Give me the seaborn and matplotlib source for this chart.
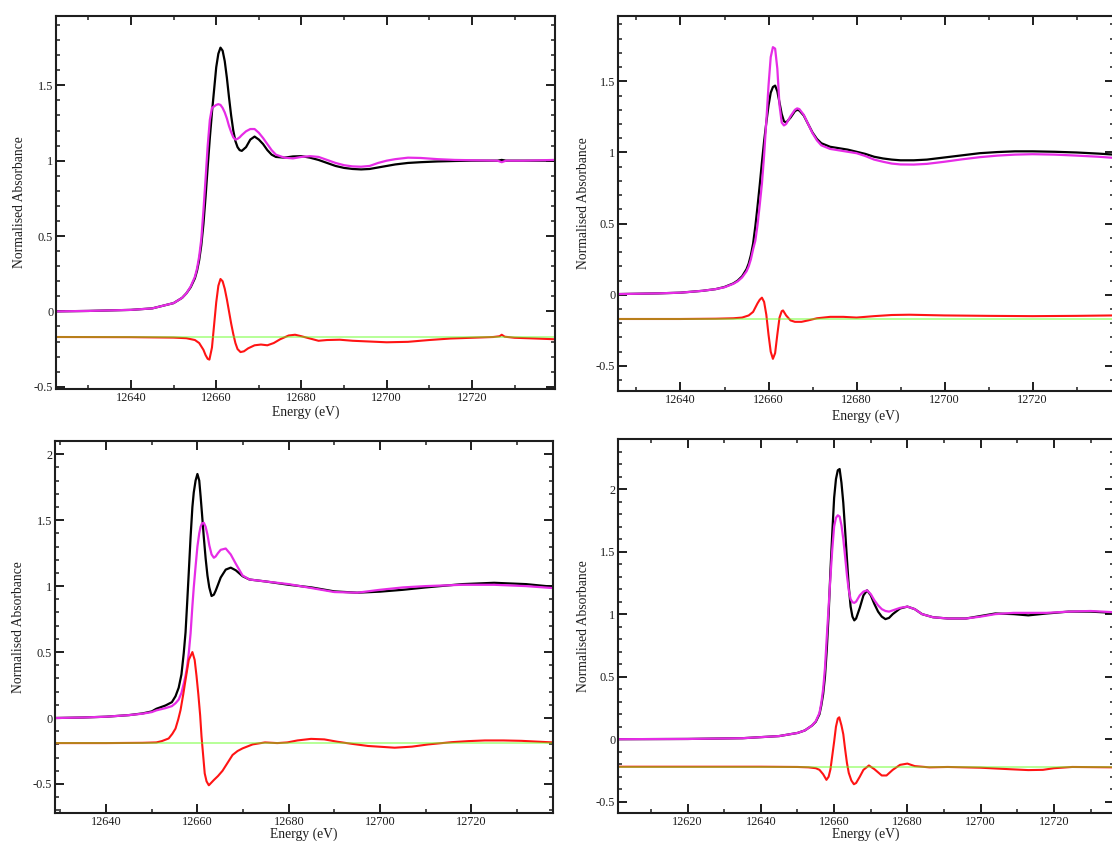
import matplotlib
matplotlib.use("Agg")
import matplotlib.pyplot as plt
from matplotlib.ticker import MultipleLocator, FuncFormatter
import seaborn as sns

# ---------------- Panel (a) ----------------
a_energy = [12622.4, 12630, 12640, 12645, 12650, 12652, 12653, 12654, 12655, 12655.5,
            12656, 12656.5, 12657, 12657.5, 12658, 12658.5, 12659, 12659.5, 12660, 12660.5,
            12661, 12661.5, 12662, 12662.5, 12663, 12663.5, 12664, 12664.5, 12665, 12665.5,
            12666, 12667, 12668, 12669, 12670, 12671, 12672, 12673, 12674, 12676,
            12678, 12680, 12682, 12684, 12686, 12688, 12690, 12692, 12694, 12696,
            12698, 12700, 12702, 12705, 12708, 12712, 12716, 12720, 12726, 12727,
            12728, 12732, 12739.5]
a_sample = [0.000, 0.003, 0.010, 0.020, 0.055, 0.090, 0.120, 0.160, 0.220, 0.270,
            0.340, 0.440, 0.580, 0.760, 0.960, 1.150, 1.320, 1.470, 1.620, 1.710,
            1.750, 1.730, 1.660, 1.550, 1.420, 1.300, 1.200, 1.130, 1.090, 1.070,
            1.065, 1.090, 1.140, 1.160, 1.140, 1.110, 1.070, 1.040, 1.025, 1.020,
            1.028, 1.030, 1.020, 1.005, 0.985, 0.965, 0.952, 0.945, 0.942, 0.945,
            0.955, 0.965, 0.975, 0.985, 0.990, 0.995, 0.998, 1.000, 1.000, 1.005,
            1.000, 1.000, 1.000]
a_fit = [0.000, 0.003, 0.010, 0.020, 0.055, 0.090, 0.120, 0.165, 0.230, 0.285,
         0.365, 0.480, 0.670, 0.880, 1.100, 1.270, 1.350, 1.360, 1.370, 1.375,
         1.370, 1.350, 1.320, 1.280, 1.230, 1.190, 1.155, 1.140, 1.145, 1.155,
         1.170, 1.195, 1.210, 1.210, 1.185, 1.150, 1.110, 1.070, 1.040, 1.020,
         1.015, 1.025, 1.030, 1.025, 1.005, 0.985, 0.970, 0.962, 0.960, 0.965,
         0.985, 1.000, 1.010, 1.020, 1.018, 1.010, 1.005, 1.003, 1.000, 0.990,
         1.000, 1.000, 1.005]
a_resid_energy = [12622.4, 12640, 12650, 12653, 12655, 12656, 12657, 12657.5, 12658, 12658.4,
                  12659, 12659.5, 12660, 12660.5, 12661, 12661.5, 12662, 12662.5, 12663, 12663.5,
                  12664, 12664.5, 12665, 12665.7, 12666.5, 12667.5, 12669, 12670.5, 12672, 12673.5,
                  12675, 12677, 12678.5, 12680, 12682, 12684, 12686, 12689, 12692, 12696,
                  12700, 12705, 12710, 12715, 12720, 12725, 12726.5, 12727, 12727.7, 12730,
                  12735, 12739.5]
a_resid = [-0.170, -0.171, -0.174, -0.178, -0.190, -0.210, -0.255, -0.290, -0.315, -0.320,
           -0.240, -0.090, 0.060, 0.170, 0.215, 0.200, 0.150, 0.080, 0.000, -0.080,
           -0.150, -0.210, -0.250, -0.270, -0.265, -0.245, -0.225, -0.220, -0.225, -0.210,
           -0.185, -0.160, -0.155, -0.165, -0.180, -0.195, -0.190, -0.188, -0.195, -0.200,
           -0.205, -0.202, -0.190, -0.180, -0.175, -0.170, -0.165, -0.155, -0.168, -0.175,
           -0.180, -0.185]

# ---------------- Panel (b) ----------------
b_energy = [12625.8, 12635, 12640, 12645, 12648, 12650, 12652, 12653, 12654, 12655,
            12655.5, 12656, 12656.5, 12657, 12657.5, 12658, 12658.5, 12659, 12659.5, 12660,
            12660.5, 12661, 12661.5, 12662, 12662.5, 12663, 12663.5, 12664, 12665, 12666,
            12666.5, 12667, 12668, 12669, 12670, 12671, 12672, 12674, 12676, 12678,
            12680, 12682, 12684, 12686, 12688, 12690, 12693, 12696, 12700, 12704,
            12708, 12712, 12716, 12720, 12725, 12730, 12735, 12738.5]
b_sample = [0.005, 0.010, 0.015, 0.028, 0.040, 0.055, 0.080, 0.100, 0.130, 0.180,
            0.220, 0.280, 0.360, 0.480, 0.620, 0.770, 0.930, 1.080, 1.210, 1.330,
            1.420, 1.460, 1.470, 1.430, 1.350, 1.270, 1.220, 1.210, 1.245, 1.290,
            1.300, 1.295, 1.260, 1.200, 1.140, 1.095, 1.065, 1.040, 1.030, 1.020,
            1.005, 0.990, 0.970, 0.958, 0.950, 0.945, 0.945, 0.950, 0.965, 0.980,
            0.995, 1.003, 1.008, 1.008, 1.005, 1.000, 0.992, 0.985]
b_fit = [0.005, 0.010, 0.015, 0.028, 0.040, 0.053, 0.077, 0.095, 0.122, 0.165,
         0.200, 0.250, 0.320, 0.380, 0.490, 0.630, 0.780, 0.980, 1.220, 1.470,
         1.670, 1.740, 1.730, 1.590, 1.330, 1.210, 1.190, 1.200, 1.255, 1.300,
         1.310, 1.305, 1.265, 1.200, 1.135, 1.085, 1.050, 1.025, 1.015, 1.005,
         0.995, 0.975, 0.950, 0.935, 0.922, 0.916, 0.915, 0.920, 0.935, 0.952,
         0.967, 0.978, 0.985, 0.988, 0.985, 0.978, 0.970, 0.962]
b_resid_energy = [12625.8, 12640, 12648, 12652, 12654, 12655.5, 12656.5, 12657.5, 12658, 12658.5,
                  12659, 12659.5, 12660, 12660.5, 12661, 12661.5, 12662, 12662.5, 12663, 12663.3,
                  12664, 12665, 12666, 12667.5, 12669, 12671, 12674, 12677, 12680, 12684,
                  12688, 12692, 12700, 12710, 12720, 12730, 12738.5]
b_resid = [-0.170, -0.170, -0.168, -0.165, -0.160, -0.145, -0.120, -0.060, -0.035, -0.020,
           -0.050, -0.140, -0.280, -0.400, -0.450, -0.410, -0.280, -0.160, -0.115, -0.110,
           -0.145, -0.180, -0.190, -0.190, -0.180, -0.165, -0.155, -0.155, -0.160, -0.150,
           -0.142, -0.140, -0.145, -0.148, -0.150, -0.148, -0.145]

# ---------------- Panel (c) ----------------
c_energy = [12628.8, 12635, 12640, 12645, 12648, 12650, 12651, 12653, 12654.4, 12655.2,
            12655.9, 12656.5, 12657, 12657.4, 12657.75, 12658.1, 12658.5, 12658.9, 12659.2, 12659.6,
            12660, 12660.4, 12660.7, 12661, 12661.4, 12661.8, 12662.2, 12662.6, 12663.1, 12663.6,
            12664, 12664.5, 12665.1, 12666.2, 12667.3, 12668.4, 12669.9, 12671.4, 12675, 12680,
            12685, 12690, 12695, 12700, 12705, 12710, 12718, 12725, 12732, 12737.9]
c_sample = [0.000, 0.004, 0.010, 0.022, 0.035, 0.050, 0.070, 0.095, 0.120, 0.165,
            0.230, 0.330, 0.490, 0.650, 0.870, 1.100, 1.370, 1.600, 1.710, 1.800,
            1.850, 1.800, 1.680, 1.550, 1.370, 1.210, 1.080, 0.990, 0.925, 0.935,
            0.965, 1.010, 1.065, 1.125, 1.140, 1.120, 1.075, 1.050, 1.035, 1.010,
            0.990, 0.960, 0.950, 0.958, 0.972, 0.990, 1.015, 1.025, 1.015, 0.995]
c_fit = [0.000, 0.004, 0.010, 0.022, 0.033, 0.045, 0.058, 0.075, 0.090, 0.112,
         0.140, 0.190, 0.260, 0.320, 0.390, 0.490, 0.640, 0.850, 0.990, 1.150,
         1.300, 1.400, 1.450, 1.475, 1.480, 1.450, 1.390, 1.310, 1.240, 1.215,
         1.225, 1.250, 1.275, 1.285, 1.240, 1.170, 1.080, 1.050, 1.035, 1.015,
         0.985, 0.955, 0.950, 0.972, 0.990, 1.000, 1.010, 1.010, 1.000, 0.985]
c_resid_energy = [12628.8, 12640, 12648, 12651, 12652.2, 12653.7, 12654.5, 12655.2, 12655.8, 12656.3,
                  12656.9, 12657.4, 12658.1, 12658.9, 12659.4, 12659.8, 12660.2, 12660.6, 12660.9, 12661.3,
                  12661.6, 12662, 12662.5, 12663.6, 12664.5, 12665.5, 12666.6, 12667.7, 12668.8, 12669.9,
                  12672.1, 12674.8, 12677.5, 12679.7, 12681.9, 12684.9, 12687.8, 12690.7, 12693.7, 12697.4,
                  12701, 12703.2, 12707, 12710.6, 12715.7, 12719.4, 12723, 12727, 12731, 12737.9]
c_resid = [-0.190, -0.190, -0.188, -0.185, -0.175, -0.155, -0.120, -0.080, -0.010, 0.060,
           0.180, 0.290, 0.440, 0.500, 0.440, 0.320, 0.180, 0.020, -0.140, -0.300,
           -0.420, -0.480, -0.510, -0.470, -0.440, -0.400, -0.340, -0.280, -0.250, -0.230,
           -0.200, -0.185, -0.190, -0.185, -0.170, -0.158, -0.162, -0.180, -0.195, -0.212,
           -0.220, -0.225, -0.217, -0.200, -0.183, -0.175, -0.170, -0.170, -0.173, -0.185]

# ---------------- Panel (d) ----------------
d_energy = [12601, 12620, 12635, 12645, 12650, 12652, 12654, 12655, 12656, 12656.5,
            12657, 12657.5, 12658, 12658.5, 12659, 12659.5, 12660, 12660.5, 12661, 12661.5,
            12662, 12662.5, 12663, 12663.5, 12664, 12664.5, 12665, 12665.5, 12666, 12667,
            12668, 12669, 12670, 12671, 12672, 12673, 12674, 12675, 12676, 12678,
            12680, 12682, 12684, 12687, 12691, 12696, 12700, 12704, 12709, 12713,
            12718, 12724, 12730, 12736.4]
d_sample = [0.000, 0.002, 0.008, 0.025, 0.050, 0.070, 0.110, 0.140, 0.200, 0.270,
            0.360, 0.500, 0.720, 1.000, 1.350, 1.650, 1.930, 2.080, 2.150, 2.160,
            2.050, 1.890, 1.670, 1.440, 1.220, 1.060, 0.980, 0.950, 0.965, 1.050,
            1.150, 1.190, 1.150, 1.080, 1.020, 0.980, 0.960, 0.970, 1.000, 1.045,
            1.060, 1.040, 1.000, 0.975, 0.965, 0.965, 0.985, 1.005, 1.000, 0.990,
            1.005, 1.020, 1.020, 1.010]
d_fit = [0.000, 0.002, 0.008, 0.025, 0.050, 0.070, 0.110, 0.145, 0.210, 0.290,
         0.400, 0.570, 0.820, 1.060, 1.300, 1.520, 1.700, 1.770, 1.790, 1.780,
         1.710, 1.600, 1.460, 1.310, 1.190, 1.120, 1.095, 1.090, 1.100, 1.150,
         1.180, 1.190, 1.160, 1.110, 1.070, 1.040, 1.025, 1.020, 1.030, 1.050,
         1.060, 1.040, 1.000, 0.975, 0.965, 0.965, 0.980, 1.000, 1.010, 1.010,
         1.010, 1.020, 1.025, 1.015]
d_resid_energy = [12601, 12640, 12650, 12653, 12655, 12656, 12657, 12657.9, 12658.5, 12659,
                  12659.5, 12660, 12660.5, 12661, 12661.4, 12662, 12662.5, 12663, 12663.5, 12664,
                  12664.7, 12665.4, 12666, 12667, 12668, 12669.5, 12671, 12673, 12674.3, 12676,
                  12678, 12680, 12682, 12686, 12691, 12700, 12708, 12713, 12717, 12720,
                  12725, 12736.4]
d_resid = [-0.220, -0.220, -0.222, -0.225, -0.232, -0.245, -0.280, -0.325, -0.300, -0.240,
           -0.130, -0.020, 0.100, 0.165, 0.175, 0.110, 0.040, -0.080, -0.190, -0.270,
           -0.330, -0.360, -0.350, -0.300, -0.245, -0.210, -0.240, -0.290, -0.290, -0.245,
           -0.205, -0.195, -0.215, -0.225, -0.222, -0.228, -0.240, -0.247, -0.245, -0.232,
           -0.222, -0.225]

# zero lines for the difference spectra
baselines = [-0.17, -0.17, -0.19, -0.22]

sns.set_theme(style="ticks")
plt.rcParams["font.family"] = ["Liberation Serif", "DejaVu Serif"]
plt.rcParams["axes.linewidth"] = 1.5

TEXT = "#1e1e1e"
BLACK = "#000000"
MAGENTA = "#e62ce6"
RED = "#ff1414"
GREEN = "#66ff22"

W, H = 1112, 841
fig = plt.figure(figsize=(W / 100, H / 100), dpi=100)


def px_axes(left, top, right, bottom):
    return fig.add_axes([left / W, 1 - bottom / H, (right - left) / W, (bottom - top) / H])


def fmt(v, _pos):
    if abs(v) < 1e-9:
        return "0"
    return f"{v:g}"


panels = [
    dict(box=(56, 16, 555, 389), xlim=(12622.4, 12739.5), ylim=(-0.515, 1.96),
         e=a_energy, s=a_sample, f=a_fit, re=a_resid_energy, r=a_resid, base=baselines[0],
         xpad=1, ypad=6),
    dict(box=(618, 16, 1114, 391), xlim=(12625.8, 12738.5), ylim=(-0.676, 1.959),
         e=b_energy, s=b_sample, f=b_fit, re=b_resid_energy, r=b_resid, base=baselines[1],
         xpad=2.5, ypad=4),
    dict(box=(55, 441, 553, 813), xlim=(12628.8, 12737.9), ylim=(-0.72, 2.10),
         e=c_energy, s=c_sample, f=c_fit, re=c_resid_energy, r=c_resid, base=baselines[2],
         xpad=-0.5, ypad=6),
    dict(box=(618, 439, 1114, 813), xlim=(12601.0, 12736.4), ylim=(-0.59, 2.40),
         e=d_energy, s=d_sample, f=d_fit, re=d_resid_energy, r=d_resid, base=baselines[3],
         xpad=-0.5, ypad=4),
]

for p in panels:
    ax = px_axes(*p["box"])
    sns.lineplot(x=p["e"], y=p["s"], ax=ax, color=BLACK, lw=1.6, estimator=None, sort=False)
    sns.lineplot(x=p["e"], y=p["f"], ax=ax, color=MAGENTA, lw=1.6, estimator=None, sort=False)
    sns.lineplot(x=p["re"], y=p["r"], ax=ax, color=RED, lw=1.5, estimator=None, sort=False)
    sns.lineplot(x=list(p["xlim"]), y=[p["base"], p["base"]], ax=ax, color=GREEN,
                 lw=1.2, alpha=0.55, estimator=None, sort=False)

    ax.set_xlim(*p["xlim"])
    ax.set_ylim(*p["ylim"])
    ax.xaxis.set_major_locator(MultipleLocator(20))
    ax.xaxis.set_minor_locator(MultipleLocator(10))
    ax.yaxis.set_major_locator(MultipleLocator(0.5))
    ax.yaxis.set_minor_locator(MultipleLocator(0.1))
    ax.yaxis.set_major_formatter(FuncFormatter(fmt))
    ax.tick_params(which="both", direction="in", top=True, right=True,
                   color=TEXT, labelcolor=TEXT, labelsize=8.8, pad=2)
    ax.tick_params(which="major", length=6.5, width=1.4)
    ax.tick_params(which="minor", length=3.2, width=1.1)
    for sp in ax.spines.values():
        sp.set_linewidth(1.5)
        sp.set_color(TEXT)
    ax.set_xlabel("Energy (eV)", fontsize=9.8, color=TEXT, labelpad=p["xpad"])
    ax.set_ylabel("Normalised Absorbance", fontsize=9.8, color=TEXT, labelpad=p["ypad"])

fig.savefig("out.png", dpi=100)
